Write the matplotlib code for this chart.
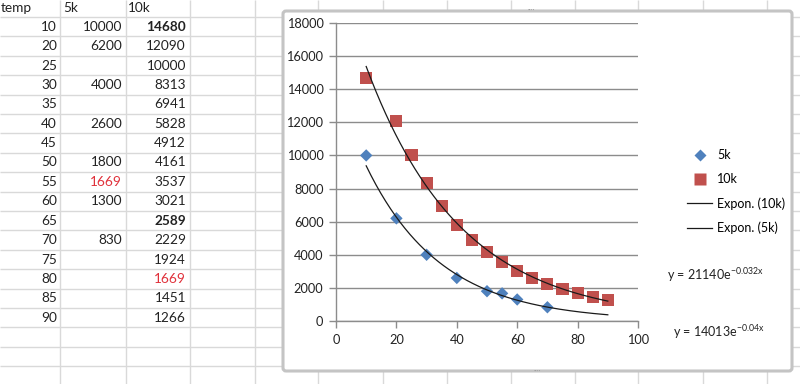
"""Excel sheet with 5k / 10k thermistor data and exponential trendlines"""

import numpy as np
import matplotlib
matplotlib.use("Agg")
import matplotlib.pyplot as plt
from matplotlib.patches import FancyBboxPatch
from matplotlib.lines import Line2D

plt.rcParams['font.family'] = ['Lato', 'DejaVu Sans']
plt.rcParams['mathtext.default'] = 'regular'

# sheet data
temps = [10, 20, 25, 30, 35, 40, 45, 50, 55, 60, 65, 70, 75, 80, 85, 90]
res_5k = [10000, 6200, None, 4000, None, 2600, None, 1800, 1669, 1300,
          None, 830, None, None, None, None]
res_10k = [14680, 12090, 10000, 8313, 6941, 5828, 4912, 4161, 3537, 3021,
           2589, 2229, 1924, 1669, 1451, 1266]
bold_cells = {(0, 2), (10, 2)}
red_cells = {(8, 1), (13, 2)}
eq_10k = "y = 21140e$^{-0.032x}$"
eq_5k = "y = 14013e$^{-0.04x}$"

blue = '#4F81BD'
red = '#C0504D'
grid_c = '#D9D9D9'
txt_c = '#222222'

W, H = 800, 384
fig = plt.figure(figsize=(W / 100, H / 100), dpi=100)

# spreadsheet layer, pixel coords
bg = fig.add_axes([0, 0, 1, 1])
bg.set_xlim(0, W)
bg.set_ylim(H, 0)
bg.axis('off')

col_x = [60, 126, 190, 255, 318, 383, 447, 511, 575, 638, 703, 767]
row_h = 19.4
row_y = [17 + row_h * k for k in range(20)]
bg.vlines(col_x, 0, H, color=grid_c, lw=1)
bg.hlines(row_y, 0, W, color=grid_c, lw=1)

bg.text(1, 8.5, "temp", fontsize=9.8, va='center', ha='left', color=txt_c)
bg.text(63, 8.5, "5k", fontsize=9.8, va='center', ha='left', color=txt_c)
bg.text(128, 8.5, "10k", fontsize=9.8, va='center', ha='left', color=txt_c)

right_edges = [57, 122, 186]
for i, t in enumerate(temps):
    yc = row_y[i] + row_h / 2
    for j, v in enumerate([t, res_5k[i], res_10k[i]]):
        if v is None:
            continue
        bg.text(right_edges[j], yc, str(v), fontsize=9.8, ha='right', va='center',
                color='#E0303A' if (i, j) in red_cells else txt_c,
                fontweight='bold' if (i, j) in bold_cells else 'normal')

# chart frame
frame = FancyBboxPatch((283, 11), 509, 360,
                       boxstyle="round,pad=0,rounding_size=3",
                       fc='white', ec='#C4C4C4', lw=2.2, zorder=5)
bg.add_patch(frame)
bg.text(531, 10.5, "····", fontsize=5, color='#A0A0A0', ha='center', va='center', zorder=6)
bg.text(537, 371.5, "····", fontsize=5, color='#A0A0A0', ha='center', va='center', zorder=6)

# plot area
ax = fig.add_axes([336 / W, 1 - 321 / H, (638 - 336) / W, (321 - 23) / H])
ax.patch.set_alpha(0)
ax.set_xlim(0, 100)
ax.set_ylim(0, 18000)
ax.set_xticks(np.arange(0, 101, 20))
ax.set_yticks(np.arange(0, 18001, 2000))
ax.grid(axis='y', color='#8C8C8C', lw=1)
ax.set_axisbelow(True)
for s in ['top', 'right']:
    ax.spines[s].set_visible(False)
for s in ['left', 'bottom']:
    ax.spines[s].set_color('#8C8C8C')
    ax.spines[s].set_linewidth(1)
ax.tick_params(direction='out', length=5, width=1, color='#8C8C8C',
               labelsize=9.2, labelcolor=txt_c, pad=4)

x5 = np.array([t for t, v in zip(temps, res_5k) if v is not None], float)
y5 = np.array([v for v in res_5k if v is not None], float)
x10 = np.array(temps, float)
y10 = np.array(res_10k, float)

# exponential trendlines (least squares on log y, like Excel)
xs = np.linspace(10, 90, 200)
b10, a10 = np.polyfit(x10, np.log(y10), 1)
b5, a5 = np.polyfit(x5, np.log(y5), 1)
ax.plot(xs, np.exp(a10) * np.exp(b10 * xs), color='#1A1A1A', lw=0.9, zorder=4)
ax.plot(xs, np.exp(a5) * np.exp(b5 * xs), color='#1A1A1A', lw=0.9, zorder=4)

ax.scatter(x5, y5, marker='D', s=40, color=blue, edgecolors='none', zorder=3)
ax.scatter(x10, y10, marker='s', s=75, color=red, edgecolors='none', zorder=3)

handles = [
    Line2D([], [], ls='none', marker='D', ms=6, color=blue, mec='none'),
    Line2D([], [], ls='none', marker='s', ms=8.5, color=red, mec='none'),
    Line2D([], [], color='#1A1A1A', lw=0.9),
    Line2D([], [], color='#1A1A1A', lw=0.9),
]
fig.legend(handles, ["5k", "10k", "Expon. (10k)", "Expon. (5k)"],
           loc='upper left', bbox_to_anchor=(681 / W, 1 - 143 / H),
           frameon=False, fontsize=9, labelspacing=0.95,
           handlelength=2.0, handletextpad=0.4, borderpad=0)

fig.text(667 / W, 1 - 275 / H, eq_10k, fontsize=9, color=txt_c, va='center')
fig.text(673 / W, 1 - 332 / H, eq_5k, fontsize=9, color=txt_c, va='center')

fig.savefig("out.png", dpi=100)
